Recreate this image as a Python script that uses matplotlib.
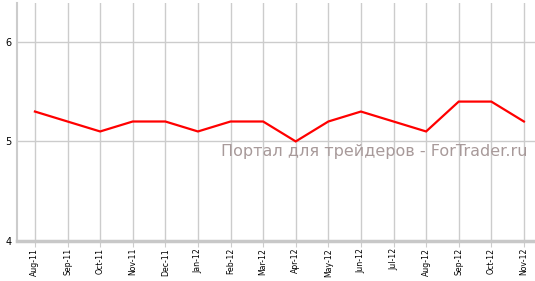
import numpy as np
import matplotlib
matplotlib.use("Agg")
import matplotlib.pyplot as plt

months = ["Aug-11", "Sep-11", "Oct-11", "Nov-11", "Dec-11", "Jan-12", "Feb-12", "Mar-12",
          "Apr-12", "May-12", "Jun-12", "Jul-12", "Aug-12", "Sep-12", "Oct-12", "Nov-12"]
values = [5.3, 5.2, 5.1, 5.2, 5.2, 5.1, 5.2, 5.2, 5.0, 5.2, 5.3, 5.2, 5.1, 5.4, 5.4, 5.2]
y_ticks = [4, 5, 6]
watermark = "Портал для трейдеров - ForTrader.ru"

fig = plt.figure(figsize=(5.35, 2.81), dpi=100)
ax = fig.add_axes([17 / 535, 40 / 281, 1 - 17 / 535, 238 / 281])

x = np.arange(len(months))
ax.plot(x, values, color="#ff0000", lw=1.6, zorder=3, solid_joinstyle="miter")

ax.set_xlim(-0.55, len(months) - 1 + 0.34)
ax.set_ylim(4, 6.39)
ax.set_xticks(x)
ax.set_xticklabels(months, rotation=90, fontsize=5.6)
ax.set_yticks(y_ticks)
ax.set_yticklabels([str(v) for v in y_ticks], fontsize=7)
ax.grid(True, color="#cccccc", lw=1)
ax.set_axisbelow(True)

for side in ("top", "right"):
    ax.spines[side].set_visible(False)
ax.spines["left"].set_color("#cccccc")
ax.spines["left"].set_linewidth(1.5)
ax.spines["bottom"].set_color("#c8c8c8")
ax.spines["bottom"].set_linewidth(2.5)
ax.tick_params(axis="x", length=4, color="#cccccc", pad=1)
ax.tick_params(axis="y", length=0, pad=4)

ax.text(0.985, 0.375, watermark, transform=ax.transAxes, ha="right", va="center",
        fontsize=11.5, color="#a89a9a")

fig.savefig("out.png", dpi=100)
